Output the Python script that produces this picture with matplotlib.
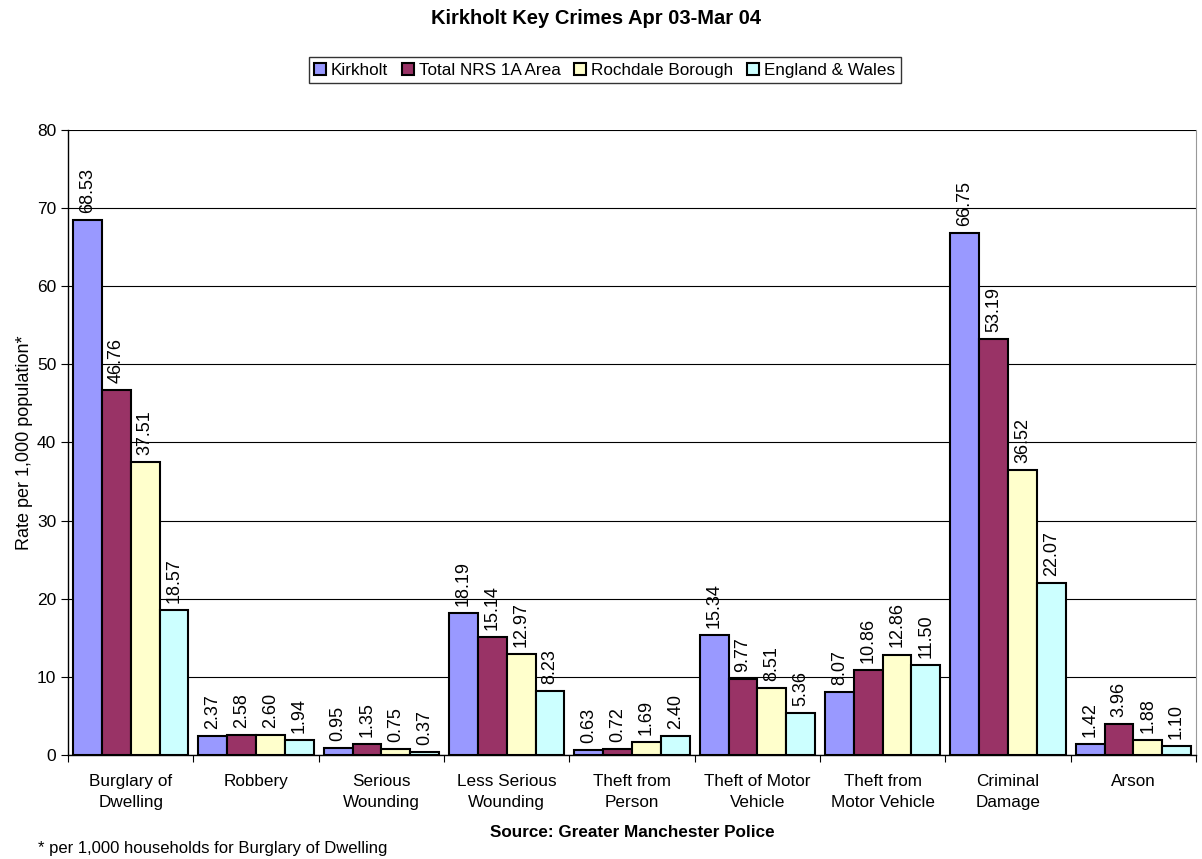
import matplotlib
matplotlib.use("Agg")
import matplotlib.pyplot as plt
import numpy as np

plt.rcParams['font.family'] = ['Liberation Sans', 'DejaVu Sans']

categories = ["Burglary of\nDwelling", "Robbery", "Serious\nWounding", "Less Serious\nWounding",
              "Theft from\nPerson", "Theft of Motor\nVehicle", "Theft from\nMotor Vehicle",
              "Criminal\nDamage", "Arson"]
series_names = ["Kirkholt", "Total NRS 1A Area", "Rochdale Borough", "England & Wales"]
kirkholt = [68.53, 2.37, 0.95, 18.19, 0.63, 15.34, 8.07, 66.75, 1.42]
nrs = [46.76, 2.58, 1.35, 15.14, 0.72, 9.77, 10.86, 53.19, 3.96]
rochdale = [37.51, 2.60, 0.75, 12.97, 1.69, 8.51, 12.86, 36.52, 1.88]
england = [18.57, 1.94, 0.37, 8.23, 2.40, 5.36, 11.50, 22.07, 1.10]
colors = ["#9999FF", "#993366", "#FFFFCC", "#CCFFFF"]

fig = plt.figure(figsize=(12.02, 8.59), dpi=100)
ax = fig.add_axes([0.0566, 0.1211, 0.9384, 0.7276])

x = np.arange(len(categories))
w = 0.23
data = [kirkholt, nrs, rochdale, england]
for i, (vals, c, name) in enumerate(zip(data, colors, series_names)):
    pos = x + (i - 1.5) * w
    ax.bar(pos, vals, width=w, color=c, edgecolor='black', linewidth=1.5, label=name, zorder=3)
    for p, v in zip(pos, vals):
        ax.text(p, v + 0.9, f"{v:.2f}", rotation=90, ha='center', va='bottom', fontsize=13, zorder=4)

ax.set_xlim(-0.5, len(categories) - 0.5)
ax.set_ylim(0, 80)
ax.set_yticks(range(0, 81, 10))
ax.yaxis.grid(True, color='black', linewidth=0.8, zorder=0)
ax.set_axisbelow(True)
ax.set_xticks(np.arange(len(categories) + 1) - 0.5, minor=False)
ax.set_xticklabels([])
ax.set_xticks(x, minor=True)
ax.set_xticklabels(categories, minor=True, fontsize=12.3, linespacing=1.45)
ax.tick_params(axis='x', which='minor', length=0, pad=14)
ax.tick_params(axis='x', which='major', length=5, direction='out', color='black')
ax.tick_params(axis='y', length=5, direction='out', labelsize=12.5)
for s in ['left', 'bottom']:
    ax.spines[s].set_color('black')
    ax.spines[s].set_linewidth(1.0)
ax.spines['top'].set_visible(False)
ax.spines['right'].set_color('#999999')
ax.set_ylabel("Rate per 1,000 population*", fontsize=13, labelpad=3)

fig.text(0.496, 0.979, "Kirkholt Key Crimes Apr 03-Mar 04", ha='center', va='center',
         fontsize=14.5, fontweight='bold')
leg = fig.legend(loc='center', bbox_to_anchor=(0.503, 0.9185), ncol=4, fontsize=12.3, frameon=True,
                 fancybox=False, edgecolor='black', handlelength=0.7, handleheight=0.7,
                 handletextpad=0.3, columnspacing=0.8, borderpad=0.3)
leg.get_frame().set_linewidth(1.0)
fig.text(0.526, 0.0314, "Source: Greater Manchester Police", ha='center', va='center',
         fontsize=12.3, fontweight='bold')
fig.text(0.0316, 0.0128, "* per 1,000 households for Burglary of Dwelling", ha='left', va='center',
         fontsize=12)

fig.savefig("out.png", dpi=100)
